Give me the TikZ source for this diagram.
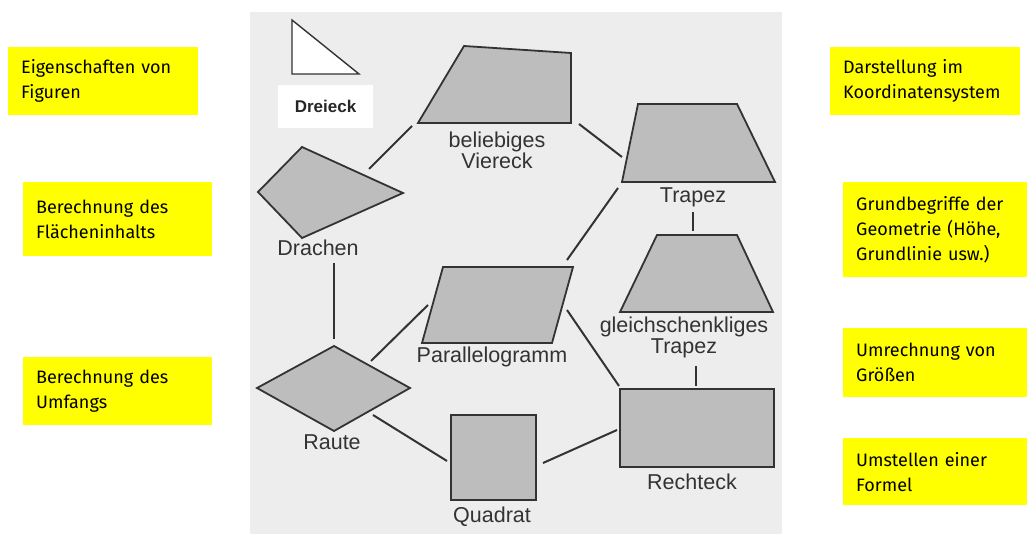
\documentclass[tikz,border=0pt]{standalone}
\usepackage{fontspec}
\setmainfont{Liberation Sans}
\newfontfamily\boxfont{Fira Sans}
\definecolor{panel}{HTML}{EDEDED}
\definecolor{ink}{HTML}{333333}
\definecolor{shapefill}{HTML}{BDBDBD}
\definecolor{notey}{HTML}{FFFF00}
\begin{document}
\begin{tikzpicture}[x=1pt,y=-1pt,
  fig/.style={draw=ink, fill=shapefill, line width=1.8pt, line join=miter},
  link/.style={draw=ink, line width=2pt},
  lbl/.style={font=\fontsize{21.5}{21}\selectfont, text=ink, align=center, inner sep=0pt},
  note/.style={fill=notey, inner xsep=13pt, inner ysep=0pt, align=left, anchor=north west,
    font=\boxfont\fontsize{18}{25}\selectfont}
]
\useasboundingbox (0,0) rectangle (1027,534);
\fill[panel] (250,12) rectangle (782,534);

% notes left
\node[note, text width=164pt, minimum height=68pt] (n1) at (8,47) {Eigenschaften von\\Figuren};
\node[note, text width=163pt, minimum height=74pt] (n2) at (23,182) {Berechnung des\\Flächeninhalts};
\node[note, text width=163pt, minimum height=68pt] (n3) at (23,357) {Berechnung des\\Umfangs};
% notes right
\node[note, text width=164pt, minimum height=68pt] (n4) at (830,47) {Darstellung im\\Koordinatensystem};
\node[note, text width=158pt, minimum height=95pt] (n5) at (843,182) {Grundbegriffe der\\Geometrie (Höhe,\\Grundlinie usw.)};
\node[note, text width=158pt, minimum height=69pt] (n6) at (843,328) {Umrechnung von\\Größen};
\node[note, text width=158pt, minimum height=67pt] (n7) at (843,438) {Umstellen einer\\Formel};

% Dreieck
\draw[draw=ink, fill=white, line width=1.4pt] (292,20) -- (292,74) -- (359,74) -- cycle;
\node[fill=white, minimum width=95pt, minimum height=43pt, inner sep=0pt,
  font=\bfseries\fontsize{17}{17}\selectfont, text=black!85] (dreieck) at (325.5,106.5) {Dreieck};

% beliebiges Viereck
\draw[fig] (464,46) -- (571,53) -- (571,123) -- (418,123) -- cycle;
\node[lbl] (viereck) at (497,150) {beliebiges\\Viereck};
% Drachen
\draw[fig] (302,147) -- (403,193) -- (302,238) -- (258,192) -- cycle;
\node[lbl] (drachen) at (318,248) {Drachen};
% Trapez
\draw[fig] (638,104) -- (737,104) -- (775,182) -- (622,182) -- cycle;
\node[lbl] (trapez) at (693,197) {Trapez};
% gleichschenkliges Trapez
\draw[fig] (657,235) -- (737,235) -- (773,312) -- (620,312) -- cycle;
\node[lbl] (gtrapez) at (684,337) {gleichschenkliges\\Trapez};
% Parallelogramm
\draw[fig] (443,267) -- (573,267) -- (552,343) -- (422,343) -- cycle;
\node[lbl] (para) at (492,357) {Parallelogramm};
% Raute
\draw[fig] (334,346) -- (410,388) -- (334,431) -- (257,388) -- cycle;
\node[lbl] (raute) at (332,442) {Raute};
% Quadrat
\draw[fig] (451,415) rectangle (536,500);
\node[lbl] (quadrat) at (492,517) {Quadrat};
% Rechteck
\draw[fig] (620,389) rectangle (774,467);
\node[lbl] (rechteck) at (692,482) {Rechteck};

% connector end points
\coordinate (a1) at (369,169); \coordinate (a2) at (412,126);
\coordinate (b1) at (579,124); \coordinate (b2) at (622,157);
\coordinate (c1) at (618,188); \coordinate (c2) at (567,260);
\coordinate (d1) at (693,212); \coordinate (d2) at (693,231);
\coordinate (e1) at (696,366); \coordinate (e2) at (696,386);
\coordinate (f1) at (567,310); \coordinate (f2) at (619,386);
\coordinate (g1) at (334,263); \coordinate (g2) at (334,339);
\coordinate (h1) at (371,361); \coordinate (h2) at (428,305);
\coordinate (i1) at (373,415); \coordinate (i2) at (447,461);
\coordinate (j1) at (543,463); \coordinate (j2) at (617,430);

\draw[link] (a1) -- (a2);
\draw[link] (b1) -- (b2);
\draw[link] (c1) -- (c2);
\draw[link] (d1) -- (d2);
\draw[link] (e1) -- (e2);
\draw[link] (f1) -- (f2);
\draw[link] (g1) -- (g2);
\draw[link] (h1) -- (h2);
\draw[link] (i1) -- (i2);
\draw[link] (j1) -- (j2);
\end{tikzpicture}
\end{document}
